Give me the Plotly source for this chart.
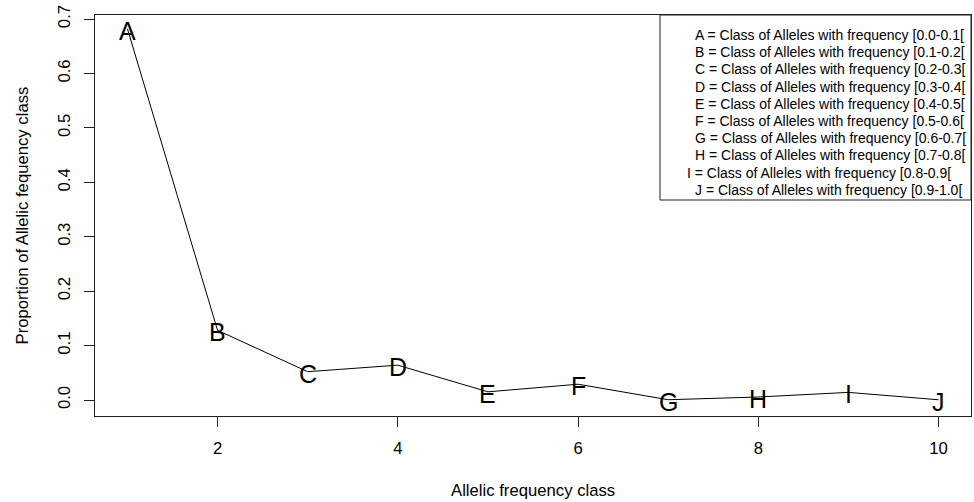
import plotly.graph_objects as go

# Data
classes = [1, 2, 3, 4, 5, 6, 7, 8, 9, 10]
letters = ["A", "B", "C", "D", "E", "F", "G", "H", "I", "J"]
proportions = [0.682, 0.128, 0.052, 0.064, 0.015, 0.029, 0.0005, 0.0055, 0.014, 0.0004]
ranges = ["[0.0-0.1[", "[0.1-0.2[", "[0.2-0.3[", "[0.3-0.4[", "[0.4-0.5[",
          "[0.5-0.6[", "[0.6-0.7[", "[0.7-0.8[", "[0.8-0.9[", "[0.9-1.0["]
x_ticks = [2, 4, 6, 8, 10]
y_ticks = [0.0, 0.1, 0.2, 0.3, 0.4, 0.5, 0.6, 0.7]

FONT = "Liberation Sans, Arial, sans-serif"
BASE = 16.7

fig = go.Figure()
fig.add_trace(go.Scatter(
    x=classes, y=proportions, mode="lines",
    line=dict(color="black", width=1),
    showlegend=False, hoverinfo="skip",
))
# letter labels centred on each point (R text())
for xv, yv, L in zip(classes, proportions, letters):
    fig.add_annotation(x=xv, y=yv, xref="x", yref="y", text=L, showarrow=False,
                       xanchor="center", yanchor="middle", yshift=-2,
                       font=dict(family=FONT, size=25, color="black"))

W, H = 974, 502
ml, mr, mt, mb = 95, 3, 15, 86
pw = W - ml - mr
ph = H - mt - mb

def px_x(px):
    return (px - ml) / pw

def px_y(py):
    return (H - mb - py) / ph

fig.update_layout(
    width=W, height=H,
    margin=dict(l=ml, r=mr, t=mt, b=mb, autoexpand=False),
    paper_bgcolor="white", plot_bgcolor="white",
    font=dict(family=FONT, color="black"),
    xaxis=dict(
        range=[0.64, 10.36], tickvals=x_ticks, ticktext=[str(v) for v in x_ticks],
        showgrid=False, zeroline=False, showline=True, mirror=True,
        linecolor="#222", linewidth=1, ticks="outside", ticklen=10,
        tickcolor="#222", tickwidth=1, tickfont=dict(size=BASE, family=FONT, color="black"),
        ticklabelstandoff=7, automargin=False,
    ),
    yaxis=dict(
        range=[-0.0294, 0.7074], tickvals=y_ticks, ticktext=[f"{v:.1f}" for v in y_ticks],
        showgrid=False, zeroline=False, showline=True, mirror=True,
        linecolor="#222", linewidth=1, ticks="outside", ticklen=10,
        tickcolor="#222", tickwidth=1, tickangle=-90,
        tickfont=dict(size=BASE, family=FONT, color="black"),
        ticklabelstandoff=7, automargin=False,
    ),
)

# axis titles
fig.add_annotation(text="Allelic frequency class", xref="paper", yref="paper",
                   x=0.5, y=px_y(490), xanchor="center", yanchor="middle",
                   showarrow=False, font=dict(size=BASE, family=FONT, color="black"))
fig.add_annotation(text="Proportion of Allelic fequency class", xref="paper", yref="paper",
                   x=px_x(22), y=0.5, xanchor="center", yanchor="middle", textangle=-90,
                   showarrow=False, font=dict(size=BASE, family=FONT, color="black"))

# legend box
fig.add_shape(type="rect", xref="paper", yref="paper",
              x0=px_x(660), x1=1.0, y0=px_y(200), y1=1.0,
              line=dict(color="#222", width=1), fillcolor="white", layer="above")
for i, (L, r) in enumerate(zip(letters, ranges)):
    xs = 685 if L == "I" else 693
    fig.add_annotation(text=f"{L} = Class of Alleles with frequency {r}",
                       xref="paper", yref="paper", x=px_x(xs), y=px_y(35 + 17.2 * i),
                       xanchor="left", yanchor="middle", showarrow=False,
                       font=dict(size=14, family=FONT, color="black"))

fig.write_html("out.html", config={"displayModeBar": False},
               post_script="document.body.style.margin='0';document.body.style.overflow='hidden';")
